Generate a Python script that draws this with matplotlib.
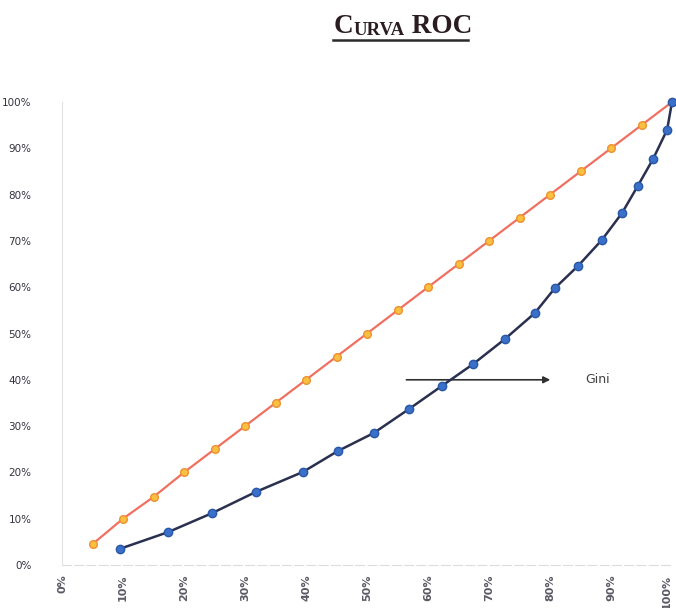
import matplotlib
matplotlib.use("Agg")
import matplotlib.pyplot as plt
import matplotlib.transforms as mtransforms
from matplotlib.lines import Line2D

# diagonal (random model) and model curve, as fractions
diag_x = [0.05, 0.10, 0.15, 0.20, 0.25, 0.30, 0.35, 0.40, 0.45, 0.50,
          0.55, 0.60, 0.65, 0.70, 0.75, 0.80, 0.85, 0.90, 0.95, 1.00]
diag_y = [0.045, 0.10, 0.147, 0.20, 0.25, 0.30, 0.35, 0.40, 0.45, 0.50,
          0.55, 0.60, 0.65, 0.70, 0.75, 0.80, 0.85, 0.90, 0.95, 1.00]

roc_x = [0.095, 0.174, 0.246, 0.318, 0.395, 0.452, 0.511, 0.569, 0.623, 0.674,
         0.726, 0.775, 0.808, 0.846, 0.885, 0.918, 0.944, 0.969, 0.992, 1.00]
roc_y = [0.035, 0.071, 0.112, 0.158, 0.201, 0.246, 0.285, 0.337, 0.387, 0.434,
         0.488, 0.544, 0.598, 0.646, 0.702, 0.760, 0.819, 0.877, 0.940, 1.00]

ticks = [0.0, 0.1, 0.2, 0.3, 0.4, 0.5, 0.6, 0.7, 0.8, 0.9, 1.0]
tick_labels = ["0%", "10%", "20%", "30%", "40%", "50%", "60%", "70%", "80%", "90%", "100%"]

fig = plt.figure(figsize=(6.76, 6.08), dpi=100)
ax = fig.add_axes([62 / 676, 1 - 565 / 608, 610 / 676, 463 / 608])

ax.plot(diag_x, diag_y, color="#F07060", lw=1.6, marker="o", ms=5.5,
        mfc="#F8C040", mec="#F09030", mew=1.0, clip_on=False, zorder=3)
ax.plot(roc_x, roc_y, color="#2A3050", lw=1.8, marker="o", ms=6,
        mfc="#3A70C8", mec="#2A58A8", mew=1.0, clip_on=False, zorder=4)

ax.set_xlim(0, 1)
ax.set_ylim(0, 1)
ax.set_xticks(ticks)
ax.set_xticklabels(tick_labels, rotation=90, fontsize=8, fontweight="bold",
                   color="#5a5a66")
ax.set_yticks(ticks)
ax.set_yticklabels(tick_labels, fontsize=7.5, color="#333340")
ax.tick_params(axis="both", length=0)
ax.tick_params(axis="y", pad=22)
ax.tick_params(axis="x", pad=7)

# keep the last x label inside the canvas
last = ax.get_xticklabels()[-1]
last.set_transform(last.get_transform() +
                   mtransforms.ScaledTranslation(-5 / 100, 0, fig.dpi_scale_trans))

for s in ["top", "right"]:
    ax.spines[s].set_visible(False)
ax.spines["left"].set_color("#e2e2e2")
ax.spines["bottom"].set_color("#dcdcdc")
ax.spines["bottom"].set_linestyle((0, (8, 3)))

# Gini arrow
ax.annotate("", xy=(0.805, 0.40), xytext=(0.56, 0.40),
            arrowprops=dict(arrowstyle="-|>", color="#303030", lw=1.2,
                            mutation_scale=10))
ax.text(0.857, 0.40, "Gini", fontsize=9, color="#404040", va="center", ha="left")

# small-caps title
tf = "Liberation Serif"
t1 = fig.text(334 / 676, 1 - 33 / 608, "C", fontsize=19.5, fontweight="bold",
              family=tf, color="#2a1c20", va="baseline")
t2 = ax.annotate("URVA", xy=(1, 0), xycoords=t1, va="bottom", ha="left",
                 fontsize=13.5, fontweight="bold", family=tf, color="#2a1c20",
                 annotation_clip=False)
t3 = ax.annotate(" ROC", xy=(1, 0), xycoords=t2, va="bottom", ha="left",
                 fontsize=19.5, fontweight="bold", family=tf, color="#2a1c20",
                 annotation_clip=False)
fig.add_artist(Line2D([333 / 676, 468 / 676], [1 - 40 / 608, 1 - 40 / 608],
                      color="#2a2a2a", lw=1.8))

fig.savefig("out.png", dpi=100)
